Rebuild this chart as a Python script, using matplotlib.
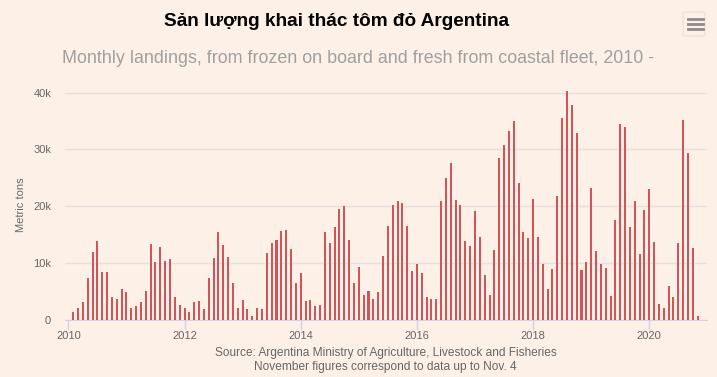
import numpy as np
import matplotlib
matplotlib.use("Agg")
from matplotlib import pyplot as plt
from matplotlib.patches import FancyBboxPatch
from matplotlib.ticker import FuncFormatter

# monthly landings (thousand metric tons), Feb 2010 .. Nov 2020
start_year = 2010
start_month = 2
landings_k = [
    1.4, 2.1, 3.0, 7.4, 11.9, 13.8, 8.3, 8.3, 3.9, 3.7, 5.3, 4.8,
    2.0, 2.3, 3.0, 5.1, 13.3, 10.1, 12.8, 10.3, 10.6, 3.9, 2.5, 2.1,
    1.4, 3.0, 3.2, 1.8, 7.3, 10.8, 15.4, 13.1, 11.0, 6.4, 2.1, 3.4,
    1.8, 0.7, 2.0, 1.8, 11.7, 13.5, 14.0, 15.6, 15.8, 12.4, 6.4, 8.2,
    3.2, 3.4, 2.3, 2.5, 15.4, 13.5, 16.3, 19.5, 20.0, 14.0, 6.4, 9.2,
    4.3, 5.1, 3.6, 4.8, 11.2, 16.5, 20.2, 20.9, 20.6, 16.5, 8.5, 9.8,
    8.2, 3.9, 3.7, 3.7, 20.9, 25.0, 27.6, 21.1, 20.2, 13.8, 12.9, 19.1,
    14.5, 7.8, 4.4, 12.2, 28.4, 30.8, 33.3, 34.9, 24.1, 15.4, 14.4, 21.3,
    14.5, 9.8, 5.3, 8.9, 21.8, 35.5, 40.2, 37.8, 32.8, 8.7, 10.1, 23.2,
    12.1, 9.8, 9.0, 4.1, 17.6, 34.4, 34.0, 16.3, 20.9, 11.5, 19.3, 23.0,
    13.7, 2.8, 2.0, 5.9, 3.9, 13.5, 35.1, 29.4, 12.6, 0.7,
]
year_ticks = [2010, 2012, 2014, 2016, 2018, 2020]
y_ticks = [0, 10000, 20000, 30000, 40000]

title = "Sản lượng khai thác tôm đỏ Argentina"
subtitle = "Monthly landings, from frozen on board and fresh from coastal fleet, 2010 -"
source = ("Source: Argentina Ministry of Agriculture, Livestock and Fisheries\n"
          "November figures correspond to data up to Nov. 4")

bg = "#fdf1e7"
plt.rcParams["font.family"] = ["Liberation Sans", "DejaVu Sans"]

values = np.array(landings_k) * 1000
xs = start_year + (start_month - 1 + np.arange(len(values))) / 12

fig = plt.figure(figsize=(7.17, 3.77), dpi=100, facecolor=bg)
ax = fig.add_axes([0.0907, 0.1525, 0.8953, 0.608], facecolor=bg)

ax.bar(xs, values, width=0.42 / 12, color="#d0545a", zorder=3)

ax.set_xlim(2009.943, 2020.993)
ax.set_ylim(0, 40400)
ax.set_xticks(year_ticks, [str(y) for y in year_ticks])
ax.set_yticks(y_ticks)
ax.yaxis.set_major_formatter(FuncFormatter(lambda v, p: "0" if v == 0 else f"{int(v / 1000)}k"))
ax.grid(axis="y", color="#e6e1de", linewidth=1, zorder=0)
for side in ["top", "right", "left"]:
    ax.spines[side].set_visible(False)
ax.spines["bottom"].set_color("#ccd6eb")
ax.tick_params(axis="x", colors="#ccd6eb", length=7, width=1, labelcolor="#666666",
               labelsize=8, pad=1)
ax.tick_params(axis="y", length=0, labelcolor="#666666", labelsize=8, pad=10)
ax.set_ylabel("Metric tons", color="#666666", fontsize=8, labelpad=5)

fig.text(0.469, 0.942, title, ha="center", va="center", fontsize=13.7,
         fontweight="bold", color="#000000")
fig.text(0.5, 0.846, subtitle, ha="center", va="center", fontsize=12.9, color="#a0a0a0")
fig.text(0.538, 0.045, source, ha="center", va="center", fontsize=8.6,
         color="#666666", linespacing=1.15)

# export menu icon
box = FancyBboxPatch((683 / 717, 1 - 36 / 377), 22 / 717, 24 / 377,
                     boxstyle="round,pad=0,rounding_size=0.004",
                     transform=fig.transFigure, facecolor=bg,
                     edgecolor="#ece4dc", linewidth=1)
fig.patches.append(box)
for yy in [19, 24, 29]:
    fig.add_artist(plt.Line2D([688 / 717, 703 / 717], [1 - yy / 377] * 2,
                              transform=fig.transFigure, color="#8c8c8c", linewidth=2))

fig.savefig("out.png", dpi=100, facecolor=bg)
